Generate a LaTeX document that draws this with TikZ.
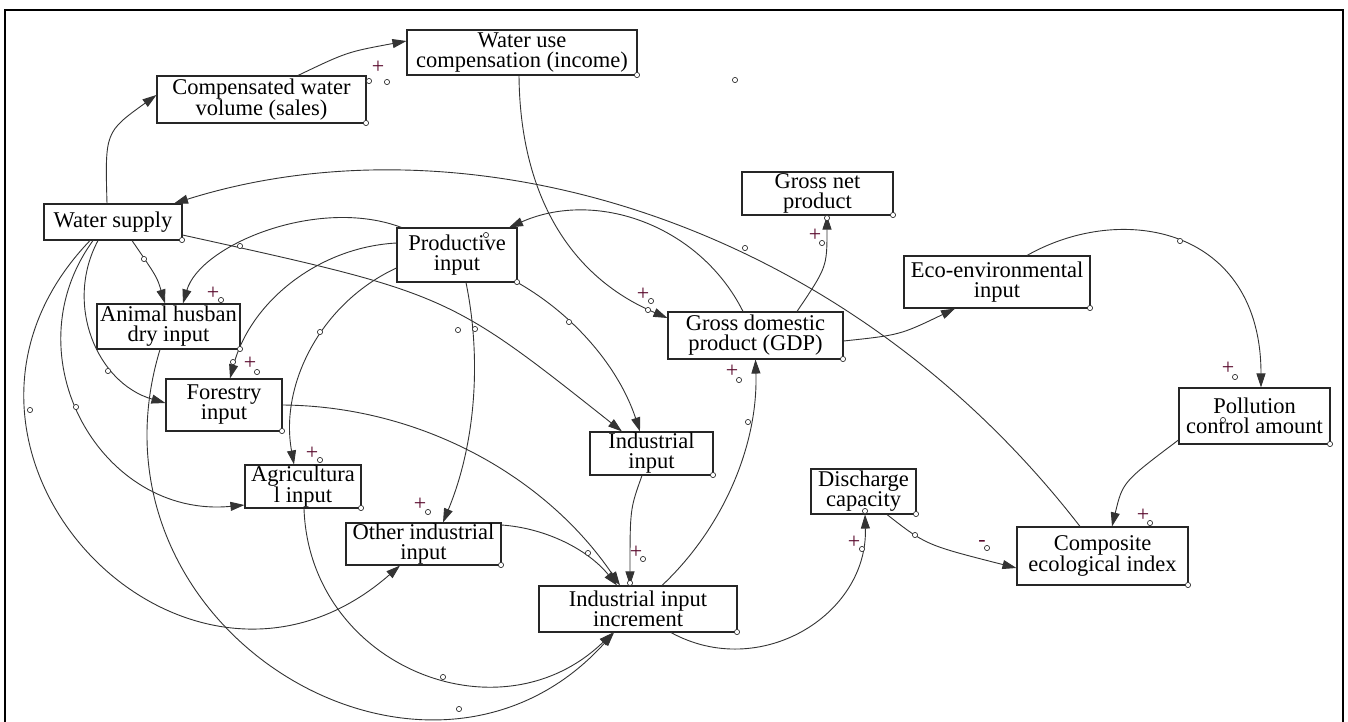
\documentclass[tikz,border=0pt]{standalone}
\usepackage{fontspec}
\setmainfont{Liberation Serif}
\usetikzlibrary{arrows.meta}
\definecolor{polcol}{RGB}{90,10,45}
\begin{document}
\begin{tikzpicture}[x=1pt,y=-1pt,
  box/.style={draw=black!85, line width=1.1pt, fill=white, align=center, inner sep=0pt,
              font=\fontsize{22.5pt}{20pt}\selectfont},
  link/.style={draw=black!80, line width=0.9pt, -{Triangle[length=14pt,width=9pt]}},
  pol/.style={text=polcol, inner sep=0pt, font=\fontsize{22pt}{22pt}\selectfont},
  hdl/.style={draw=black!80, fill=white, line width=0.7pt}]
\useasboundingbox (0,0) rectangle (1348,721);
\fill[white] (0,0) rectangle (1348,721);
% open frame
\draw[line width=2pt] (5,740) -- (5,10) -- (1343,10) -- (1343,740);

% variables
\node[box, minimum width=209pt, minimum height=47pt] (cwv) at (261.5,99.5) {Compensated water\\volume (sales)};
\node[box, minimum width=230pt, minimum height=45pt] (wuc) at (522,52.5) {Water use\\compensation (income)};
\node[box, minimum width=138pt, minimum height=36pt] (ws) at (113,222) {Water supply};
\node[box, minimum width=151pt, minimum height=43pt] (gnp) at (817.5,193.5) {Gross net\\product};
\node[box, minimum width=186pt, minimum height=52pt] (eco) at (997,282) {Eco-environmental\\input};
\node[box, minimum width=175pt, minimum height=47pt] (gdp) at (755.5,335.5) {Gross domestic\\product (GDP)};
\node[box, minimum width=120pt, minimum height=54pt] (pi) at (457,255) {Productive\\input};
\node[box, minimum width=123pt, minimum height=43pt] (ii) at (651.5,453.5) {Industrial\\input};
\node[box, minimum width=151pt, minimum height=56pt] (pca) at (1254.5,416) {Pollution\\control amount};
\node[box, minimum width=171pt, minimum height=58pt] (cei) at (1102.5,556) {Composite\\ecological index};
\node[box, minimum width=143pt, minimum height=45pt] (ahi) at (168.5,326.5) {Animal husban\\dry input};
\node[box, minimum width=116pt, minimum height=52pt] (fi) at (224,405) {Forestry\\input};
\node[box, minimum width=116pt, minimum height=43pt] (ai) at (303,486.5) {Agricultura\\l input};
\node[box, minimum width=155pt, minimum height=42pt] (oii) at (423.5,544) {Other industrial\\input};
\node[box, minimum width=198pt, minimum height=46pt] (iii) at (638,609) {Industrial input\\increment};
\node[box, minimum width=105pt, minimum height=45pt] (dc) at (863.5,491.5) {Discharge\\capacity};

% causal links
\draw[link] ([xshift=-6pt]ws.north) .. controls (105,132) .. ([yshift=4.5pt]cwv.west);
\draw[link] ([xshift=36.5pt]cwv.north) .. controls (347,52) .. ([yshift=11.5pt]wuc.west);
\draw[link] ([xshift=-3pt]wuc.south) .. controls (520,190) and (566,275) .. ([yshift=17.5pt]gdp.west);
\draw[link] ([xshift=-12.5pt]gdp.north) .. controls (700.2,225.9) and (596.8,188.7) .. ([xshift=52pt]pi.north);
\draw[link] ([xshift=41.5pt]gdp.north) .. controls (827,267) .. ([xshift=9.5pt]gnp.south);
\draw[link] ([yshift=-5.5pt]gdp.east) .. controls (900,335) .. ([xshift=-42pt]eco.south);
\draw[link] ([xshift=30pt]eco.north) .. controls (1123,201) and (1261,228) .. ([xshift=6.5pt]pca.north);
\draw[link] ([yshift=-24pt]pca.west) .. controls (1122.7,482) .. ([xshift=9.5pt]cei.north);
\draw[link] ([xshift=-22.5pt]cei.north) .. controls (836,211) and (458,114) .. ([xshift=61pt]ws.north);
\draw[link] ([yshift=-13pt]ws.east) .. controls (448,293.5) .. ([xshift=-29.5pt]ii.north);
\draw[link] ([xshift=19pt]ws.south) .. controls (157,277) .. ([xshift=-3.5pt]ahi.north);
\draw[link] ([xshift=5pt]pi.north west) .. controls (318,196) and (200,245) .. ([xshift=14.5pt]ahi.north);
\draw[link] ([xshift=-15pt]ws.south) .. controls (63.9,304.3) and (96.9,383.1) .. ([yshift=2pt]fi.west);
\draw[link] ([xshift=-20pt]ws.south) .. controls (8.8,356.7) and (101.8,518.8) .. ([yshift=-18.5pt]ai.west);
\draw[link] ([xshift=-23pt]ws.south) .. controls (-108.8,447.9) and (183.8,754.7) .. ([xshift=-23.5pt]oii.south);
\draw[link] ([xshift=-8.5pt]ahi.south) .. controls (75,630) and (427.7,839.6) .. ([xshift=-24pt]iii.south);
\draw[link] ([xshift=1pt]ai.south) .. controls (309.3,665.6) and (499.5,742.4) .. ([xshift=-25pt]iii.south);
\draw[link] ([yshift=12pt]pi.west) .. controls (317.7,247.3) and (250.3,302.3) .. ([xshift=6pt]fi.north);
\draw[link] ([yshift=-13pt]pi.west) .. controls (321.8,302.4) and (279.4,383.6) .. ([xshift=-9pt]ai.north);
\draw[link] ([xshift=9pt]pi.south) .. controls (482.4,362.9) and (474.4,446.7) .. ([xshift=19.5pt]oii.north);
\draw[link] (pi.south east) .. controls (575.9,315.8) and (619.3,368.8) .. ([xshift=-11.5pt]ii.north);
\draw[link] (fi.east) .. controls (417.3,406) and (543.7,473.4) .. ([xshift=-18pt]iii.north);
\draw[link] ([yshift=19pt]oii.east) .. controls (546.3,528.1) and (588.3,549.9) .. ([xshift=-21pt]iii.north);
\draw[link] ([xshift=24pt]iii.north) .. controls (723.9,527.1) and (758.1,444.5) .. (gdp.south);
\draw[link] ([xshift=-9.5pt]ii.south) .. controls (630,509) .. ([xshift=-8pt]iii.north);
\draw[link] ([xshift=33pt]iii.south) .. controls (759.7,681.1) and (867.9,615.3) .. ([xshift=1.5pt]dc.south);
\draw[link] ([xshift=23.5pt]dc.south) .. controls (926,545) .. ([yshift=-12pt]cei.west);

% small handles on boxes and arcs
\foreach \p in {(366,123),(637,75),(182,240),(893,215),(1090,308),(843,359),(517,282),
  (713,475),(1330,444),(1188,585),(240,349),(282,431),(361,508),(501,565),(737,632),(916,514),
  (369,81),(387,82),(735,80),(648,310),(651,301),(822,243),(827,218),(745,248),(1180,241),
  (1235,377),(1223,420),(1150,523),(987,548),(915,535),(862,549),(865,511),(739,380),
  (748,422),(643,559),(630,583),(588,553),(569,322),(458,330),(475,329),(428,512),(320,460),
  (320,332),(257,372),(233,362),(221,300),(240,246),(144,259),(108,371),(76,407),(30,410),
  (486,235),(443,677),(459,709)}
  \draw[hdl] \p circle[radius=2.6pt];

% link polarities
\node[pol] (s1) at (378,67) {+};
\node[pol] (s2) at (643,294) {+};
\node[pol] (s3) at (815,235) {+};
\node[pol] (s4) at (1228,368) {+};
\node[pol] (s5) at (1143,515) {+};
\node[pol] (s6) at (732,371) {+};
\node[pol] (s7) at (636,552) {+};
\node[pol] (s8) at (854,542) {+};
\node[pol] (s9) at (982,543) {-};
\node[pol] (s10) at (213,293) {+};
\node[pol] (s11) at (250,363) {+};
\node[pol] (s12) at (312,453) {+};
\node[pol] (s13) at (420,504) {+};
\end{tikzpicture}
\end{document}
